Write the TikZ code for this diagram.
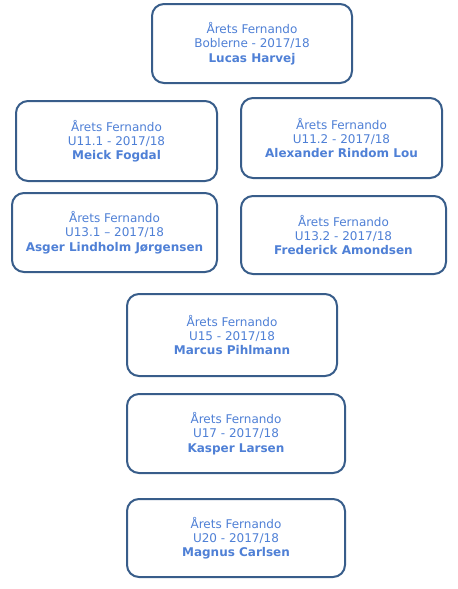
\documentclass[tikz,border=0pt]{standalone}
\usepackage{fontspec}
\setmainfont{DejaVu Sans}
\definecolor{txtblue}{HTML}{4F80D6}
\definecolor{edgeblue}{HTML}{385D8A}
\begin{document}
\begin{tikzpicture}[x=0.75pt,y=-0.75pt,
  award/.style 2 args={draw=edgeblue, line width=1.5pt, rounded corners=9pt,
    fill=white, text=txtblue, align=center, inner sep=0pt,
    minimum width=#1*0.75pt, minimum height=#2*0.75pt,
    font=\fontsize{9pt}{10.7pt}\selectfont}]
\useasboundingbox (0,0) rectangle (457,589);
\node[award={200}{79}] (b1) at (252,43.5) {Årets Fernando\\Boblerne - 2017/18\\\textbf{Lucas Harvej}};
\node[award={201}{80}] (b2) at (116.5,141) {Årets Fernando\\U11.1 - 2017/18\\\textbf{Meick Fogdal}};
\node[award={201}{80}] (b3) at (341.5,138) {Årets Fernando\\U11.2 - 2017/18\\\textbf{Alexander Rindom Lou}};
\node[award={205}{79}] (b4) at (114.5,232.5) {Årets Fernando\\U13.1 – 2017/18\\\textbf{Asger Lindholm Jørgensen}};
\node[award={205}{78}] (b5) at (343.5,235) {Årets Fernando\\U13.2 - 2017/18\\\textbf{Frederick Amondsen}};
\node[award={210}{82}] (b6) at (232,335) {Årets Fernando\\U15 - 2017/18\\\textbf{Marcus Pihlmann}};
\node[award={218}{79}] (b7) at (236,433.5) {Årets Fernando\\U17 - 2017/18\\\textbf{Kasper Larsen}};
\node[award={218}{78}] (b8) at (236,538) {Årets Fernando\\U20 - 2017/18\\\textbf{Magnus Carlsen}};
\end{tikzpicture}
\end{document}
